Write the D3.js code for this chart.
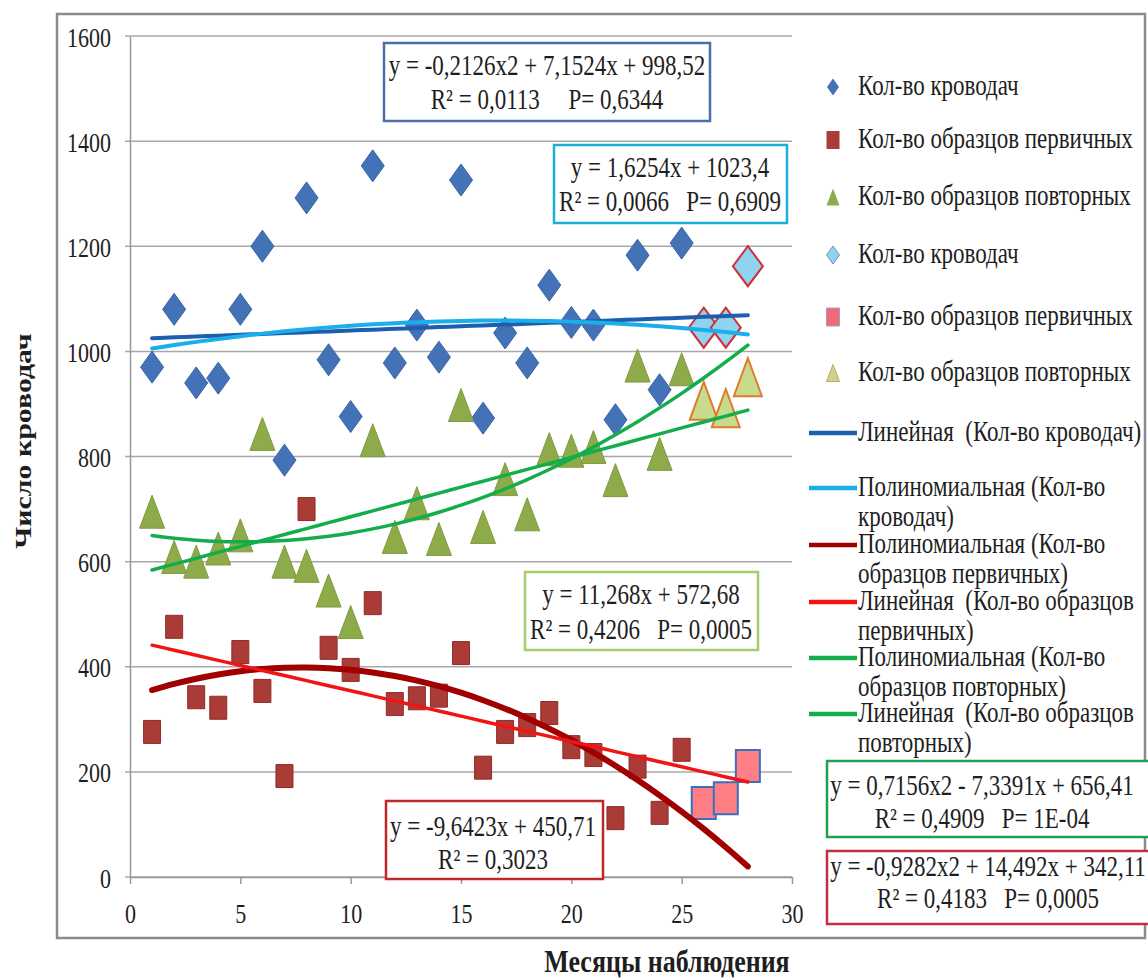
<!DOCTYPE html>
<html>
<head>
<meta charset="utf-8">
<script src="https://cdn.jsdelivr.net/npm/d3@7"></script>
<style>
  body { margin: 0; background: #fff; }
  svg text { fill: #1e1e1e; white-space: pre; }
</style>
</head>
<body>
<svg width="1148" height="979" font-family="'Liberation Serif', 'Times New Roman', 'DejaVu Serif', serif"></svg>
<script>
// data
var months = [1,2,3,4,5,6,7,8,9,10,11,12,13,14,15,16,17,18,19,20,21,22,23,24,25];
var monthsNew = [26,27,28];
var donors = [970,1080,940,949,1080,1200,793,1292,984,876,1353,978,1050,989,1326,873,1035,978,1126,1055,1050,870,1183,927,1206];
var donorsNew = [1045,1045,1162];
var primary = [276,476,342,322,428,354,192,700,436,394,521,329,340,345,426,208,276,289,312,247,232,112,210,122,242];
var primaryNew = [141,150,211];
var repeat = [695,609,600,625,650,843,600,592,545,485,831,647,711,643,898,666,757,690,814,811,818,755,973,805,966];
var repeatNew = [906,892,951];
var trendMonths = [1,2,3,4,5,6,7,8,9,10,11,12,13,14,15,16,17,18,19,20,21,22,23,24,25,26,27,28];
// trendline coefficients c0 + c1*x + c2*x^2, as printed on the chart
var donorsLin = [1023.4, 1.6254];
var donorsPoly = [998.52, 7.1524, -0.2126];
var primaryPoly = [342.11, 14.492, -0.9282];
var primaryLin = [450.71, -9.6423];
var repeatPoly = [656.41, -7.3391, 0.7156];
var repeatLin = [572.68, 11.268];
var xTicks = [0,5,10,15,20,25,30];
var yTicks = [0,200,400,600,800,1000,1200,1400,1600];

var SY = 1.27;   // the picture is stretched vertically
var FS = 23;
var FONT = "'Liberation Serif', 'Times New Roman', 'DejaVu Serif', serif";

var svg = d3.select("svg");
var x = d3.scaleLinear().domain([0,30]).range([130,792]);
var y = d3.scaleLinear().domain([0,1600]).range([877,36]);

function label(parent, px, py, s, o) {
  o = o || {};
  return parent.append("text")
    .attr("transform", "translate(" + px + "," + py + ") scale(1," + (o.sy || SY) + ")" + (o.rotate ? " rotate(" + o.rotate + ")" : ""))
    .attr("text-anchor", o.anchor || "start")
    .style("font-family", FONT)
    .style("font-size", (o.size || FS) + "px")
    .style("font-weight", o.bold ? "bold" : null)
    .text(s);
}
function diamond(w,h){ return "M0," + (-h/2) + "L" + (w/2) + ",0L0," + (h/2) + "L" + (-w/2) + ",0Z"; }
function square(w,h){ return "M" + (-w/2) + "," + (-h/2) + "h" + w + "v" + h + "h" + (-w) + "Z"; }
function triangle(w,h){ return "M0," + (-h/2) + "L" + (w/2) + "," + (h/2) + "L" + (-w/2) + "," + (h/2) + "Z"; }

// chart border
svg.append("rect").attr("x",57).attr("y",14).attr("width",1088).attr("height",924)
  .attr("fill","none").attr("stroke","#8a8a8a").attr("stroke-width",2.5);

// grid
svg.append("g").selectAll("line").data(yTicks).enter().append("line")
  .attr("x1",125).attr("x2",x(30)).attr("y1",d => y(d)).attr("y2",d => y(d))
  .attr("stroke","#a8a8a8").attr("stroke-width",1.5);

// axes
var gy = svg.append("g").attr("transform","translate(" + x(0) + ",0)")
  .call(d3.axisLeft(y).tickValues(yTicks).tickFormat(d3.format("d")).tickSize(0).tickPadding(19));
gy.select(".domain").attr("stroke","#999").attr("stroke-width",1.5);
gy.selectAll("text").attr("dy",null).attr("transform","translate(0,10) scale(1," + SY + ")");

var gx = svg.append("g").attr("transform","translate(0," + y(0) + ")")
  .call(d3.axisBottom(x).tickValues(xTicks).tickSize(7).tickSizeOuter(0));
gx.select(".domain").attr("stroke","#999").attr("stroke-width",1.5);
gx.selectAll(".tick line").attr("stroke","#999").attr("stroke-width",1.5);
gx.selectAll("text").attr("y",0).attr("dy",null).attr("transform","translate(0,46) scale(1," + SY + ")");
svg.selectAll("g").attr("font-family", null).attr("font-size", null);
svg.selectAll(".tick text").style("font-family", FONT).style("font-size", "22px").style("fill","#1e1e1e");

// axis titles
label(svg, 667, 972, "Месяцы наблюдения", {anchor:"middle", bold:true, size:26, sy:1.18});
label(svg, 31, 441, "Число кроводач", {anchor:"middle", bold:true, size:23, sy:1.3, rotate:-90});

// markers
var pts = svg.append("g");
function drawSeries(xs, vals, shape, w, h, fill, stroke, sw) {
  pts.append("g").selectAll("path").data(vals).enter().append("path")
    .attr("d", shape(w,h))
    .attr("transform", (d,i) => "translate(" + x(xs[i]) + "," + y(d) + ")")
    .attr("fill", fill).attr("stroke", stroke || "none").attr("stroke-width", sw || 0);
}
drawSeries(months, donors, diamond, 23, 32, "#4372b7", "#3a64a5", 1);
drawSeries(months, primary, square, 17, 23, "#ab3b37", "#8e2c29", 1);
drawSeries(months, repeat, triangle, 25, 33, "#8eab4a", "#7f9a40", 1);
drawSeries(monthsNew, donorsNew, diamond, 30, 40, "#8fd3f1", "#d03038", 2);
drawSeries(monthsNew, primaryNew, square, 24, 32, "#ff7f85", "#3a6fc0", 2);
drawSeries(monthsNew, repeatNew, triangle, 28, 38, "#c6dc8c", "#e07b2e", 2);

// trendlines
function evalPoly(c, t) { var s = 0; c.forEach((k,i) => { s += k * Math.pow(t,i); }); return s; }
var line = d3.line().x(d => x(d[0])).y(d => y(d[1])).curve(d3.curveCatmullRom);
function trend(c, color, w) {
  svg.append("path").datum(trendMonths.map(t => [t, evalPoly(c,t)]))
    .attr("d", line).attr("fill","none").attr("stroke",color).attr("stroke-width",w)
    .attr("stroke-linecap","round");
}
var trendColors = ["#1d5fae","#1aaeea","#a00000","#f01414","#13ad4c","#13ad4c"];
trend(donorsLin, trendColors[0], 4);
trend(donorsPoly, trendColors[1], 4);
trend(primaryPoly, trendColors[2], 6);
trend(primaryLin, trendColors[3], 3.5);
trend(repeatPoly, trendColors[4], 3.5);
trend(repeatLin, trendColors[5], 3.5);

// equation boxes
var boxes = [
  {x:384, y:43, w:326, h:78, c:"#4a6fa8", cx:547, l:["y = -0,2126x2 + 7,1524x + 998,52","R² = 0,0113     P= 0,6344"], b:[75,109]},
  {x:554, y:145, w:233, h:78, c:"#1aaedc", cx:670, l:["y = 1,6254x + 1023,4","R² = 0,0066   P= 0,6909"], b:[177,211]},
  {x:525, y:572, w:233, h:78, c:"#a7ce6a", cx:641, l:["y = 11,268x + 572,68","R² = 0,4206   P= 0,0005"], b:[604,639]},
  {x:386, y:801, w:217, h:78, c:"#c02828", cx:493, l:["y = -9,6423x + 450,71","R² = 0,3023"], b:[836,869]},
  {x:827, y:761, w:324, h:76, c:"#22a052", cx:982, l:["y = 0,7156x2 - 7,3391x + 656,41","R² = 0,4909   P= 1E-04"], b:[795,828]},
  {x:827, y:851, w:340, h:73, c:"#c03040", cx:988, l:["y = -0,9282x2 + 14,492x + 342,11","R² = 0,4183   P= 0,0005"], b:[876,908]}
];
boxes.forEach(function(b) {
  svg.append("rect").attr("x",b.x).attr("y",b.y).attr("width",b.w).attr("height",b.h)
    .attr("fill","#fff").attr("stroke",b.c).attr("stroke-width",2.5);
  b.l.forEach((s,i) => label(svg, b.cx, b.b[i], s, {anchor:"middle"}));
});

// legend
var lg = svg.append("g");
var markerRows = [
  {y:87, shape:diamond, w:12, h:17, fill:"#4372b7", stroke:"none", t:"Кол-во кроводач"},
  {y:140, shape:square, w:13, h:18, fill:"#ab3b37", stroke:"none", t:"Кол-во образцов первичных"},
  {y:197, shape:triangle, w:13, h:17, fill:"#8eab4a", stroke:"none", t:"Кол-во образцов повторных"},
  {y:255, shape:diamond, w:13, h:18, fill:"#8fd3f1", stroke:"#7f8fb0", t:"Кол-во кроводач"},
  {y:317, shape:square, w:13, h:18, fill:"#f06a78", stroke:"#a0a0c0", t:"Кол-во образцов первичных"},
  {y:373, shape:triangle, w:13, h:17, fill:"#c6d68c", stroke:"#d0a060", t:"Кол-во образцов повторных"}
];
markerRows.forEach(function(r) {
  lg.append("path").attr("d", r.shape(r.w,r.h)).attr("transform","translate(833," + r.y + ")")
    .attr("fill", r.fill).attr("stroke", r.stroke).attr("stroke-width", 1);
  label(lg, 858, r.y + 8, r.t);
});
var lineRows = [
  {y:433, t:["Линейная  (Кол-во кроводач)"]},
  {y:488, t:["Полиномиальная (Кол-во","кроводач)"]},
  {y:545, t:["Полиномиальная (Кол-во","образцов первичных)"]},
  {y:602, t:["Линейная  (Кол-во образцов","первичных)"]},
  {y:658, t:["Полиномиальная (Кол-во","образцов повторных)"]},
  {y:714, t:["Линейная  (Кол-во образцов","повторных)"]}
];
lineRows.forEach(function(r, i) {
  lg.append("line").attr("x1",809).attr("x2",857).attr("y1",r.y).attr("y2",r.y)
    .attr("stroke", trendColors[i]).attr("stroke-width", 4.5);
  r.t.forEach((s,j) => label(lg, 858, r.y + 8 + j*30, s));
});
</script>
</body>
</html>
